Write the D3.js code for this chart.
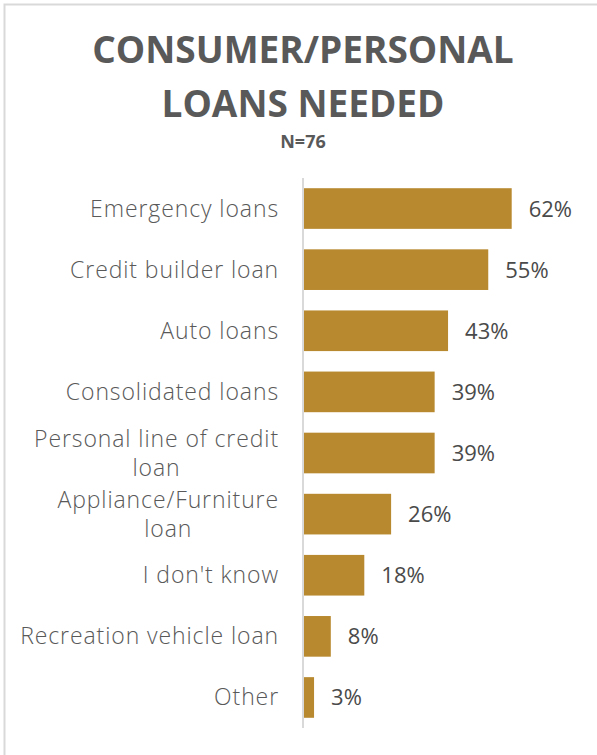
<!DOCTYPE html>
<html>
<head>
<meta charset="utf-8">
<script src="https://cdn.jsdelivr.net/npm/d3@7"></script>
<style>
  html, body { margin: 0; padding: 0; background: #fff; }
  svg { display: block; }
  text { font-family: "Open Sans", "Lato", sans-serif; }
</style>
</head>
<body>
<svg id="chart" width="597" height="755"></svg>
<script>
// Loan types and share of respondents (%)
const categories = [
  "Emergency loans",
  "Credit builder loan",
  "Auto loans",
  "Consolidated loans",
  "Personal line of credit|loan",
  "Appliance/Furniture|loan",
  "I don't know",
  "Recreation vehicle loan",
  "Other"
];
const values = [62, 55, 43, 39, 39, 26, 18, 8, 3];
const titleLines = ["CONSUMER/PERSONAL", "LOANS NEEDED"];
const subtitle = "N=76";

const svg = d3.select("#chart");

// panel frame
svg.append("rect")
  .attr("x", 4.5).attr("y", 4.5)
  .attr("width", 640).attr("height", 800)
  .attr("fill", "none")
  .attr("stroke", "#d9d9d9")
  .attr("stroke-width", 2);

// title
svg.append("g").selectAll("text")
  .data(titleLines)
  .join("text")
  .attr("x", 303)
  .attr("y", (d, i) => 63 + i * 54)
  .attr("text-anchor", "middle")
  .attr("font-size", 37)
  .attr("font-weight", 700)
  .attr("fill", "#595959")
  .text(d => d);

svg.append("text")
  .attr("x", 303).attr("y", 148)
  .attr("text-anchor", "middle")
  .attr("font-size", 18)
  .attr("font-weight", 700)
  .attr("fill", "#595959")
  .text(subtitle);

const data = categories.map((c, i) => ({ label: c, value: values[i] }));

const x0 = 304;
const x = d3.scaleLinear().domain([0, 70]).range([x0, x0 + 234.5]);
const y = d3.scaleBand()
  .domain(categories)
  .range([178, 728])
  .paddingInner(0.335)
  .paddingOuter(0.167);

// bars
svg.append("g").selectAll("rect")
  .data(data)
  .join("rect")
  .attr("x", x(0))
  .attr("y", d => y(d.label))
  .attr("width", d => x(d.value) - x(0))
  .attr("height", y.bandwidth())
  .attr("fill", "#b8892f");

// category axis line
svg.append("line")
  .attr("x1", x0 - 1).attr("x2", x0 - 1)
  .attr("y1", 178).attr("y2", 728)
  .attr("stroke", "#d9d9d9")
  .attr("stroke-width", 2);

// value labels
svg.append("g").selectAll("text")
  .data(data)
  .join("text")
  .attr("x", d => x(d.value) + 17)
  .attr("y", d => y(d.label) + y.bandwidth() / 2 + 8)
  .attr("font-size", 22)
  .attr("font-weight", 400)
  .attr("fill", "#4a4a4a")
  .text(d => d.value + "%");

// category labels (wrapped lines centred on each other, block right-aligned)
const labelRight = 279;
const lineH = 29;
const lab = svg.append("g").selectAll("g")
  .data(data)
  .join("g");

lab.each(function(d) {
  const g = d3.select(this);
  const lines = d.label.split("|");
  const cy = y(d.label) + y.bandwidth() / 2 + 8 - (lines.length - 1) * lineH / 2;
  const texts = g.selectAll("text")
    .data(lines)
    .join("text")
    .attr("y", (l, i) => cy + i * lineH)
    .attr("font-size", 23)
    .attr("font-weight", 300)
    .attr("letter-spacing", 0.9)
    .attr("fill", "#595959")
    .attr("text-anchor", "middle")
    .text(l => l);
  let maxW = 0;
  texts.each(function() { maxW = Math.max(maxW, this.getComputedTextLength()); });
  texts.attr("x", labelRight - maxW / 2);
});
</script>
</body>
</html>
